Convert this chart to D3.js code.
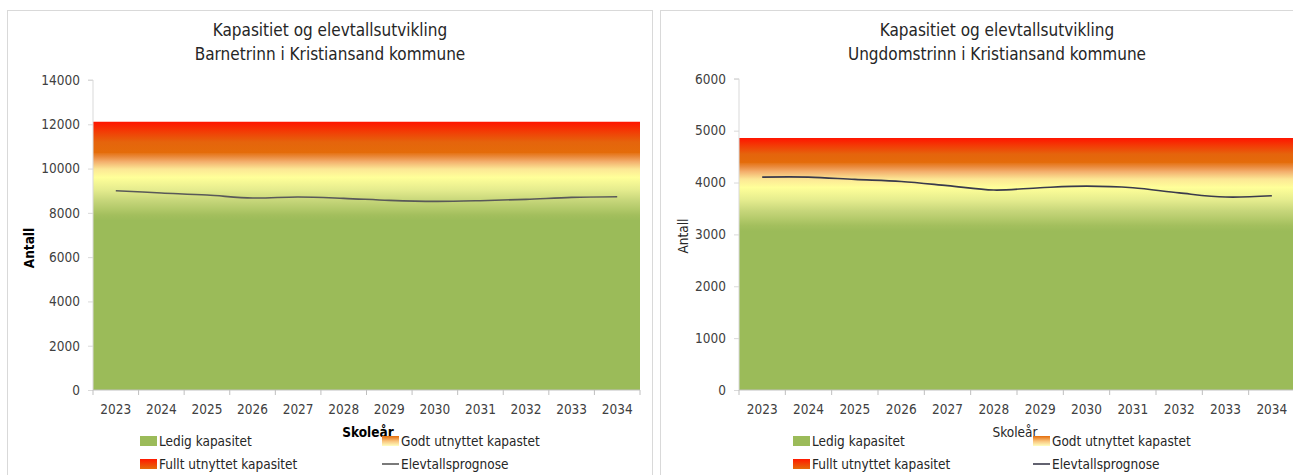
<!DOCTYPE html>
<html>
<head>
<meta charset="utf-8">
<script src="https://cdn.jsdelivr.net/npm/d3@7"></script>
<style>
  html, body { margin: 0; padding: 0; background: #fff; }
  svg { display: block; }
  text { font-family: "Liberation Sans Narrow", "DejaVu Sans Condensed", "Open Sans", sans-serif; fill: #404040; }
</style>
</head>
<body>
<svg id="chart" width="1293" height="475"></svg>
<script>
// School years on the category axis
const years = ["2023","2024","2025","2026","2027","2028","2029","2030","2031","2032","2033","2034"];

// Barnetrinn: capacity bands (stacked) and pupil forecast
const barneLedig  = [7700, 7700, 7700, 7700, 7700, 7700, 7700, 7700, 7700, 7700, 7700, 7700];
const barneGodt   = [3050, 3050, 3050, 3050, 3050, 3050, 3050, 3050, 3050, 3050, 3050, 3050];
const barneFullt  = [1370, 1370, 1370, 1370, 1370, 1370, 1370, 1370, 1370, 1370, 1370, 1370];
const barneElever = [9000, 8900, 8805, 8670, 8715, 8655, 8565, 8520, 8550, 8610, 8700, 8730];
const barneTicks  = [0, 2000, 4000, 6000, 8000, 10000, 12000, 14000];

// Ungdomstrinn: capacity bands (stacked) and pupil forecast
const ungLedig  = [3080, 3080, 3080, 3080, 3080, 3080, 3080, 3080, 3080, 3080, 3080, 3080];
const ungGodt   = [1320, 1320, 1320, 1320, 1320, 1320, 1320, 1320, 1320, 1320, 1320, 1320];
const ungFullt  = [460, 460, 460, 460, 460, 460, 460, 460, 460, 460, 460, 460];
const ungElever = [4105, 4105, 4060, 4020, 3940, 3855, 3900, 3930, 3900, 3800, 3720, 3745];
const ungTicks  = [0, 1000, 2000, 3000, 4000, 5000, 6000];

const seriesNames = ["Ledig kapasitet", "Godt utnyttet kapastet", "Fullt utnyttet kapasitet", "Elevtallsprognose"];

const svg = d3.select("#chart");
const defs = svg.append("defs");

// Vertical gradients for the capacity bands (bottom -> top)
function vGrad(id, stops) {
  const g = defs.append("linearGradient").attr("id", id)
    .attr("x1", 0).attr("y1", 1).attr("x2", 0).attr("y2", 0);
  stops.forEach(([o, c]) => g.append("stop").attr("offset", o).attr("stop-color", c));
}
const greenFill = "#9BBB59";
vGrad("gradGodt", [
  [0, "#9BBB59"], [0.08, "#A3BF5D"], [0.3, "#C8D77B"], [0.45, "#E5EC8E"],
  [0.63, "#FFFF99"], [0.75, "#FCE795"], [0.86, "#F3AE6C"], [0.93, "#EA8A3C"], [1, "#E46C0A"]
]);
vGrad("gradFullt", [
  [0, "#E46C0A"], [0.35, "#E5640C"], [0.7, "#F33A05"], [1, "#FF1400"]
]);
vGrad("swGodt", [[0, "#FFFFC0"], [0.5, "#F8C27A"], [1, "#E46C0A"]]);
vGrad("swFullt", [[0, "#E46C0A"], [1, "#FF1A00"]]);

function drawChart(cfg) {
  const g = svg.append("g");

  // panel frame
  g.append("rect")
    .attr("x", cfg.frame[0] + 0.5).attr("y", cfg.frame[1] + 0.5)
    .attr("width", cfg.frame[2]).attr("height", cfg.frame[3])
    .attr("fill", "#fff").attr("stroke", "#D9D9D9").attr("stroke-width", 1);

  const x = d3.scaleBand().domain(years).range([cfg.x0, cfg.x1]).padding(0);
  const y = d3.scaleLinear().domain([0, cfg.yMax]).range([cfg.yBottom, cfg.yTop]);

  // stacked capacity bands
  const rows = years.map((yr, i) => ({ year: yr, ledig: cfg.ledig[i], godt: cfg.godt[i], fullt: cfg.fullt[i] }));
  const stack = d3.stack().keys(["ledig", "godt", "fullt"])(rows);
  const fills = { ledig: greenFill, godt: "url(#gradGodt)", fullt: "url(#gradFullt)" };
  // bands span the whole plot width, edge to edge; upper bands overlap
  // the band below by a pixel so no seam shows between them
  const areaFlat = d3.area()
    .x((d, i) => i === 0 ? cfg.x0 : cfg.x1)
    .y0(d => y(d[0]) + (d[0] > 0 ? 1 : 0))
    .y1(d => y(d[1]));
  stack.forEach(s => {
    const pts = [s[0], s[s.length - 1]];
    g.append("path").datum(pts).attr("d", areaFlat).attr("fill", fills[s.key]);
  });

  // y axis
  const yAxis = d3.axisLeft(y).tickValues(cfg.ticks).tickSize(5).tickPadding(8).tickFormat(d3.format("d"));
  const ya = g.append("g").attr("transform", `translate(${cfg.x0},0)`).call(yAxis);
  ya.select(".domain").attr("stroke", "#D9D9D9").attr("d", `M-5,${cfg.yTop}H0V${cfg.yBottom}`);
  ya.selectAll(".tick line").attr("stroke", "#D9D9D9");
  ya.selectAll(".tick text").attr("font-size", 13.5).style("fill", "#404040")
    .style("font-family", "Liberation Sans Narrow, DejaVu Sans Condensed, sans-serif");

  // x axis
  const xAxis = d3.axisBottom(x).tickSize(0).tickPadding(14);
  const xa = g.append("g").attr("transform", `translate(0,${cfg.yBottom})`).call(xAxis);
  xa.select(".domain").attr("stroke", "#BFBFBF").attr("d", `M${cfg.x0},0H${cfg.x1}`);
  xa.selectAll(".tick text").attr("font-size", 13.5).style("fill", "#404040")
    .style("font-family", "Liberation Sans Narrow, DejaVu Sans Condensed, sans-serif");
  // category boundary ticks
  xa.selectAll("line.bound").data(years.concat(["end"])).enter().append("line")
    .attr("class", "bound")
    .attr("x1", (d, i) => cfg.x0 + i * x.bandwidth()).attr("x2", (d, i) => cfg.x0 + i * x.bandwidth())
    .attr("y1", 0).attr("y2", 5).attr("stroke", "#BFBFBF");

  // forecast line
  const line = d3.line()
    .x((d, i) => x(years[i]) + x.bandwidth() / 2)
    .y(d => y(d))
    .curve(d3.curveCatmullRom.alpha(0.5));
  g.append("path").datum(cfg.elever).attr("d", line)
    .attr("fill", "none").attr("stroke", cfg.lineColor).attr("stroke-width", 1.6);

  // titles
  const cx = cfg.titleX;
  g.append("text").attr("x", cx).attr("y", 36).attr("text-anchor", "middle")
    .attr("font-size", 17).style("fill", "#262626").text("Kapasitiet og elevtallsutvikling");
  g.append("text").attr("x", cx).attr("y", 60).attr("text-anchor", "middle")
    .attr("font-size", 17).style("fill", "#262626").text(cfg.subtitle);

  // axis titles
  g.append("text")
    .attr("transform", `translate(${cfg.yTitleX},${cfg.yTitleY}) rotate(-90)`)
    .attr("text-anchor", "middle").attr("font-size", 13.5)
    .attr("font-weight", cfg.bold ? "bold" : "normal").style("fill", cfg.bold ? "#000" : "#262626")
    .text("Antall");
  g.append("text").attr("x", cfg.xTitleX).attr("y", 437).attr("text-anchor", "middle")
    .attr("font-size", 13.5).attr("font-weight", cfg.bold ? "bold" : "normal")
    .style("fill", cfg.bold ? "#000" : "#262626").text("Skoleår");

  // legend
  const lx1 = cfg.legendX[0], lx2 = cfg.legendX[1];
  const items = [
    { name: seriesNames[0], x: lx1, y: 441, type: "rect", fill: greenFill },
    { name: seriesNames[1], x: lx2, y: 441, type: "rect", fill: "url(#swGodt)" },
    { name: seriesNames[2], x: lx1, y: 464, type: "rect", fill: "url(#swFullt)" },
    { name: seriesNames[3], x: lx2, y: 464, type: "line", fill: cfg.lineColor }
  ];
  items.forEach(it => {
    if (it.type === "rect") {
      g.append("rect").attr("x", it.x).attr("y", it.y - 5).attr("width", 17).attr("height", 10).attr("fill", it.fill);
    } else {
      g.append("line").attr("x1", it.x).attr("x2", it.x + 17).attr("y1", it.y).attr("y2", it.y)
        .attr("stroke", it.fill).attr("stroke-width", 1.6);
    }
    g.append("text").attr("x", it.x + 19).attr("y", it.y + 5).attr("font-size", 13.5)
      .style("fill", "#262626").text(it.name);
  });
}

drawChart({
  frame: [7, 10, 645, 470],
  x0: 93, x1: 640, yTop: 80, yBottom: 390, yMax: 14000,
  ticks: barneTicks, ledig: barneLedig, godt: barneGodt, fullt: barneFullt, elever: barneElever,
  lineColor: "#595959", subtitle: "Barnetrinn i Kristiansand kommune", titleX: 330,
  yTitleX: 34, yTitleY: 248, xTitleX: 368, bold: true, legendX: [140, 382]
});

drawChart({
  frame: [660, 10, 640, 470],
  x0: 739, x1: 1295, yTop: 78.8, yBottom: 390, yMax: 6000,
  ticks: ungTicks, ledig: ungLedig, godt: ungGodt, fullt: ungFullt, elever: ungElever,
  lineColor: "#3A3A4C", subtitle: "Ungdomstrinn i Kristiansand kommune", titleX: 997,
  yTitleX: 688, yTitleY: 236, xTitleX: 1015, bold: false, legendX: [793, 1033]
});
</script>
</body>
</html>
